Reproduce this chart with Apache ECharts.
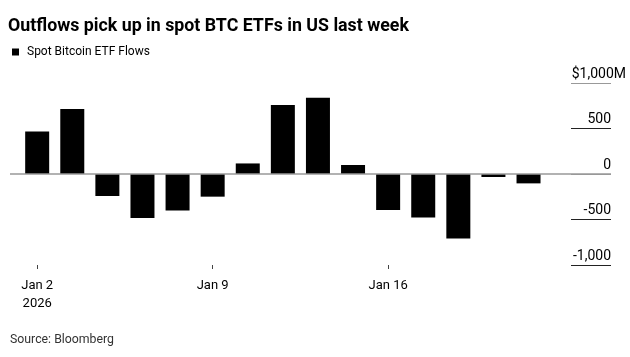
<!DOCTYPE html>
<html>
<head>
<meta charset="utf-8">
<script src="https://cdn.jsdelivr.net/npm/echarts@6/dist/echarts.min.js"></script>
<style>
html,body{margin:0;padding:0;background:#fff;}
#chart{width:630px;height:357px;}
</style>
</head>
<body>
<div id="chart"></div>
<script>
// Trading days (index positions on the x axis)
var days = ['Jan 2','Jan 5','Jan 6','Jan 7','Jan 8','Jan 9','Jan 12','Jan 13','Jan 14','Jan 15','Jan 16','Jan 20','Jan 21','Jan 22','Jan 23'];
// Spot Bitcoin ETF flows, $M
var flows = [468, 714, -242, -484, -400, -249, 116, 758, 838, 99, -396, -477, -708, -33, -103];
// x-axis tick positions (indexes into days) and their labels
var tickIdx = [0, 5, 10];
var tickLabels = ['Jan 2\n2026', 'Jan 9', 'Jan 16'];
// y-axis ticks
var yTicks = [-1000, -500, 0, 500, 1000];

var FONT = 'Roboto, "Liberation Sans", Arial, sans-serif';
var chart = echarts.init(document.getElementById('chart'), null, {renderer: 'canvas'});

var seriesData = flows.map(function (v, i) { return [i, v]; });

function fmtY(v) {
  var s = Math.abs(v).toLocaleString('en-US');
  if (v < 0) s = '-' + s;
  if (v === yTicks[yTicks.length - 1]) return '{t|$' + s + 'M}';
  return '{n|' + s + '}';
}

var option = {
  animation: false,
  backgroundColor: '#fff',
  title: [
    {
      text: 'Outflows pick up in spot BTC ETFs in US last week',
      left: 8, top: 18, padding: 0,
      textStyle: {fontFamily: FONT, fontWeight: 'bold', fontSize: 17.8, color: '#000'}
    },
    {
      text: 'Source: Bloomberg',
      left: 10, top: 334, padding: 0,
      textStyle: {fontFamily: FONT, fontWeight: 'normal', fontSize: 12.3, color: '#333'}
    }
  ],
  legend: {
    left: 12, top: 46, padding: 0,
    icon: 'rect', itemWidth: 7, itemHeight: 7,
    textStyle: {fontFamily: FONT, fontSize: 12, color: '#000', padding: [0, 0, 0, 3]},
    data: ['Spot Bitcoin ETF Flows']
  },
  grid: [
    {left: 10, right: 19, top: 83, bottom: 92},
    {left: 571, right: 19, top: 83, bottom: 92}
  ],
  xAxis: [
    {
      type: 'value', gridIndex: 0,
      min: -0.7745, max: 16.35,
      splitLine: {show: false},
      axisLine: {show: false, onZero: false},
      axisTick: {show: true, length: 4, lineStyle: {color: '#444', width: 1}, customValues: tickIdx},
      axisLabel: {
        show: true, margin: 12, customValues: tickIdx,
        fontFamily: FONT, fontSize: 13, color: '#000', lineHeight: 18,
        formatter: function (v) { var k = tickIdx.indexOf(Math.round(v)); return k >= 0 ? tickLabels[k] : ''; }
      }
    },
    {
      type: 'value', gridIndex: 1, min: 0, max: 1, show: false
    }
  ],
  yAxis: [
    {
      type: 'value', gridIndex: 0, min: -1000, max: 1000, interval: 500,
      show: false
    },
    {
      type: 'value', gridIndex: 1, position: 'right', min: -1000, max: 1000, interval: 500,
      axisLine: {show: false}, axisTick: {show: false},
      splitLine: {show: true, lineStyle: {color: ['#222', '#222', '#999', '#222', '#999'], width: 1}},
      axisLabel: {
        inside: true, margin: -15, align: 'right', verticalAlign: 'bottom',
        fontFamily: FONT, fontSize: 14, color: '#000',
        formatter: fmtY,
        rich: {
          n: {fontFamily: FONT, fontSize: 14, color: '#000', lineHeight: 14, padding: [0, 15, 4, 0]},
          t: {fontFamily: FONT, fontSize: 14, color: '#000', lineHeight: 14, padding: [0, 0, 4, 0]}
        }
      }
    }
  ],
  series: [
    {
      name: 'Spot Bitcoin ETF Flows',
      type: 'bar',
      xAxisIndex: 0, yAxisIndex: 0,
      barWidth: 24,
      itemStyle: {color: '#000'},
      data: seriesData,
      markLine: {
        silent: true, symbol: 'none', label: {show: false},
        lineStyle: {color: '#999', width: 1.5, type: 'solid'},
        data: [{yAxis: 0}]
      }
    }
  ]
};
chart.setOption(option);
</script>
</body>
</html>
